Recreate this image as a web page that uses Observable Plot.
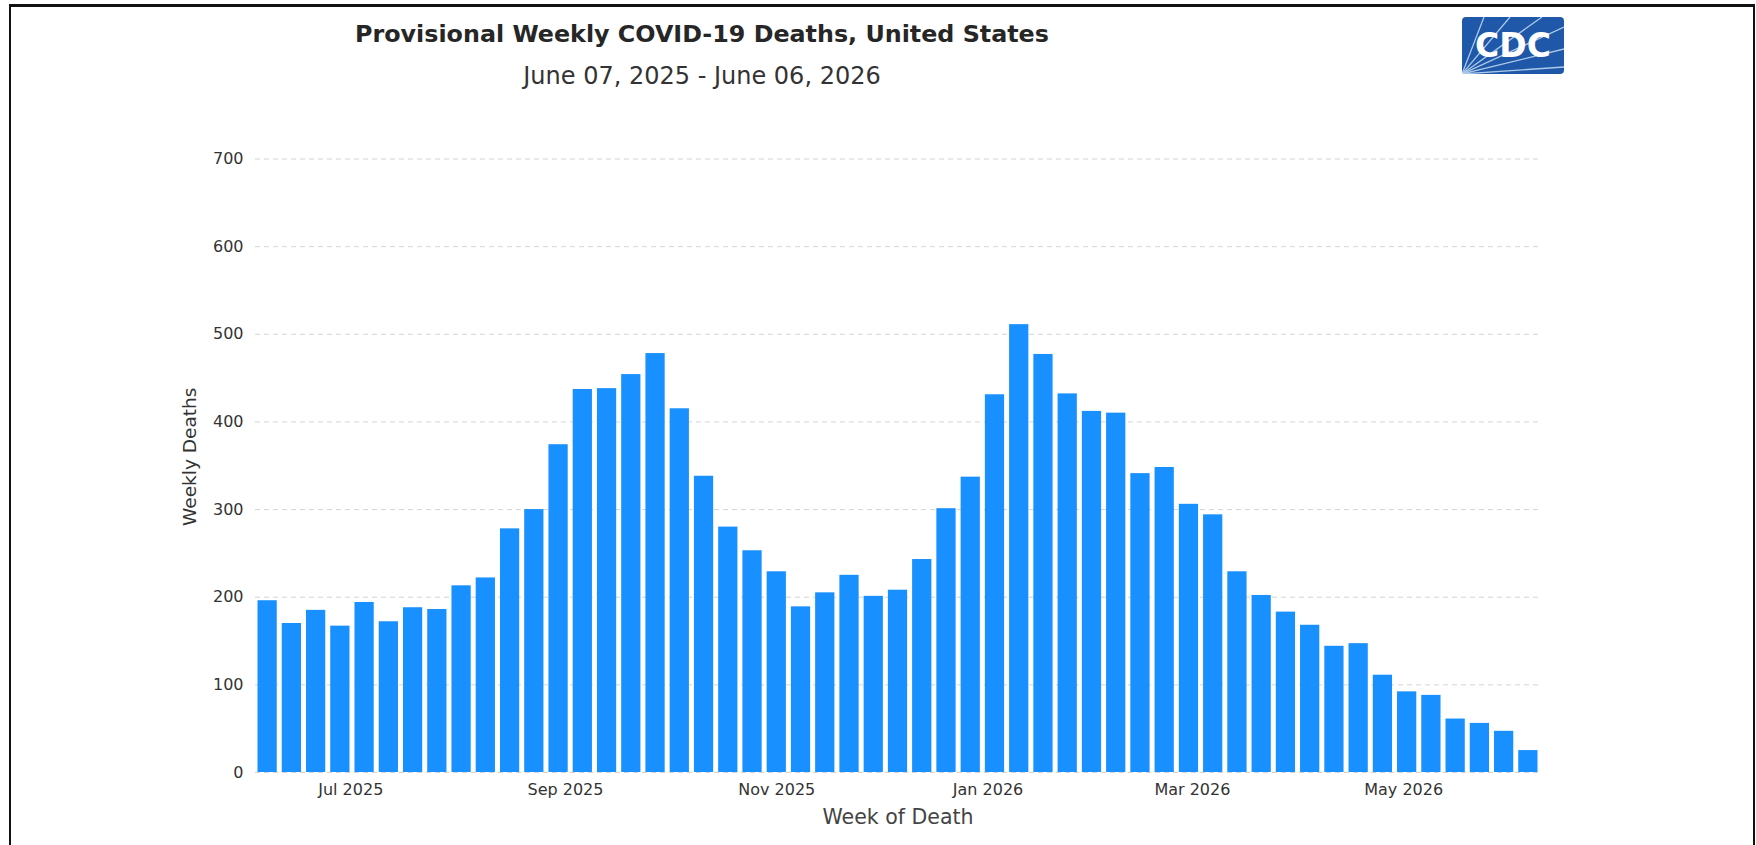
<!DOCTYPE html>
<html>
<head>
<meta charset="utf-8">
<script src="https://cdn.jsdelivr.net/npm/d3@7"></script>
<script src="https://cdn.jsdelivr.net/npm/@observablehq/plot@0.6"></script>
<style>
  html, body { margin: 0; padding: 0; background: #fff; width: 1756px; height: 845px; overflow: hidden; font-family: "DejaVu Sans", sans-serif; }
  #frame { position: absolute; left: 9px; top: 4px; width: 1746px; height: 1000px; box-sizing: border-box;
           border-top: 3px solid #111; border-left: 2px solid #111; border-right: 2px solid #111; }
  #title { position: absolute; left: 252px; width: 900px; top: 19px; text-align: center; font-size: 23.8px; font-weight: bold; color: #262626; line-height: 30px; }
  #subtitle { position: absolute; left: 252px; width: 900px; top: 61px; text-align: center; font-size: 24px; color: #333; line-height: 30px; }
  #logo { position: absolute; left: 1462px; top: 17px; }
  #chart { position: absolute; left: 0; top: 130px; }
</style>
</head>
<body>
<div id="frame"></div>
<div id="title">Provisional Weekly COVID-19 Deaths, United States</div>
<div id="subtitle">June 07, 2025 - June 06, 2026</div>
<svg id="logo" width="102" height="57" viewBox="0 0 102 57">
  <rect x="0" y="0" width="102" height="57" rx="4" fill="#1f58a8"/>
  <g stroke="#bcd6f2" stroke-width="1.3" opacity="0.9">
    <line x1="0" y1="57" x2="22" y2="0"/>
    <line x1="0" y1="57" x2="48" y2="0"/>
    <line x1="0" y1="57" x2="80" y2="0"/>
    <line x1="0" y1="57" x2="102" y2="10"/>
    <line x1="0" y1="57" x2="102" y2="32"/>
    <line x1="0" y1="57" x2="102" y2="50"/>
  </g>
  <text x="51" y="40" text-anchor="middle" font-family="DejaVu Sans" font-weight="bold" font-size="33" fill="#fff">CDC</text>
</svg>
<div id="chart"></div>
<script>
// ---- data ----
const weekEnding = [
  "2025-06-07","2025-06-14","2025-06-21","2025-06-28","2025-07-05","2025-07-12","2025-07-19","2025-07-26",
  "2025-08-02","2025-08-09","2025-08-16","2025-08-23","2025-08-30","2025-09-06","2025-09-13","2025-09-20",
  "2025-09-27","2025-10-04","2025-10-11","2025-10-18","2025-10-25","2025-11-01","2025-11-08","2025-11-15",
  "2025-11-22","2025-11-29","2025-12-06","2025-12-13","2025-12-20","2025-12-27","2026-01-03","2026-01-10",
  "2026-01-17","2026-01-24","2026-01-31","2026-02-07","2026-02-14","2026-02-21","2026-02-28","2026-03-07",
  "2026-03-14","2026-03-21","2026-03-28","2026-04-04","2026-04-11","2026-04-18","2026-04-25","2026-05-02",
  "2026-05-09","2026-05-16","2026-05-23","2026-05-30","2026-06-06"
];
const weeklyDeaths = [
  196, 170, 185, 167, 194, 172, 188, 186,
  213, 222, 278, 300, 374, 437, 438, 454,
  478, 415, 338, 280, 253, 229, 189, 205,
  225, 201, 208, 243, 301, 337, 431, 511,
  477, 432, 412, 410, 341, 348, 306, 294,
  229, 202, 183, 168, 144, 147, 111, 92,
  88, 61, 56, 47, 25
];
const xTicks = ["2025-07-01","2025-09-01","2025-11-01","2026-01-01","2026-03-01","2026-05-01"];
const yTicks = [0, 100, 200, 300, 400, 500, 600, 700];
const xDomain = ["2025-06-03T12:00Z", "2026-06-09T12:00Z"];

// ---- build ----
const HALF_WEEK = 3.5 * 24 * 3600 * 1000;
const data = weekEnding.map((d, i) => ({date: new Date(d + "T00:00Z"), value: weeklyDeaths[i]}));

const chart = Plot.plot({
  width: 1756,
  height: 715,
  marginLeft: 255,
  marginRight: 216,
  marginTop: 28.5,
  marginBottom: 73,
  style: {fontFamily: "DejaVu Sans, sans-serif", fontSize: "16px", color: "#333", background: "transparent"},
  x: {type: "utc", domain: xDomain.map(d => new Date(d))},
  y: {domain: [0, 700]},
  marks: [
    Plot.gridY(yTicks, {stroke: "#d4d4d4", strokeOpacity: 1, strokeDasharray: "5,4"}),
    Plot.rectY(data, {
      x1: d => new Date(+d.date - HALF_WEEK),
      x2: d => new Date(+d.date + HALF_WEEK),
      y: "value",
      fill: "#1890ff",
      insetLeft: 2.5,
      insetRight: 2.5
    }),
    Plot.axisX(xTicks.map(d => new Date(d + "T00:00Z")), {
      tickSize: 0, tickPadding: 11, tickFormat: d3.utcFormat("%b %Y"), label: null, fontSize: 16, fill: "#333"
    }),
    Plot.axisY(yTicks, {tickSize: 0, tickPadding: 12, label: null, fontSize: 16, fill: "#333"}),
    Plot.text(["Week of Death"], {frameAnchor: "bottom", textAnchor: "middle", lineAnchor: "middle", dy: 45, fontSize: 20.5, fill: "#444"}),
    Plot.text(["Weekly Deaths"], {frameAnchor: "left", textAnchor: "middle", lineAnchor: "middle", rotate: -90, dx: -65, dy: -9, fontSize: 18.5, fill: "#333"})
  ]
});
document.getElementById("chart").appendChild(chart);
</script>
</body>
</html>
